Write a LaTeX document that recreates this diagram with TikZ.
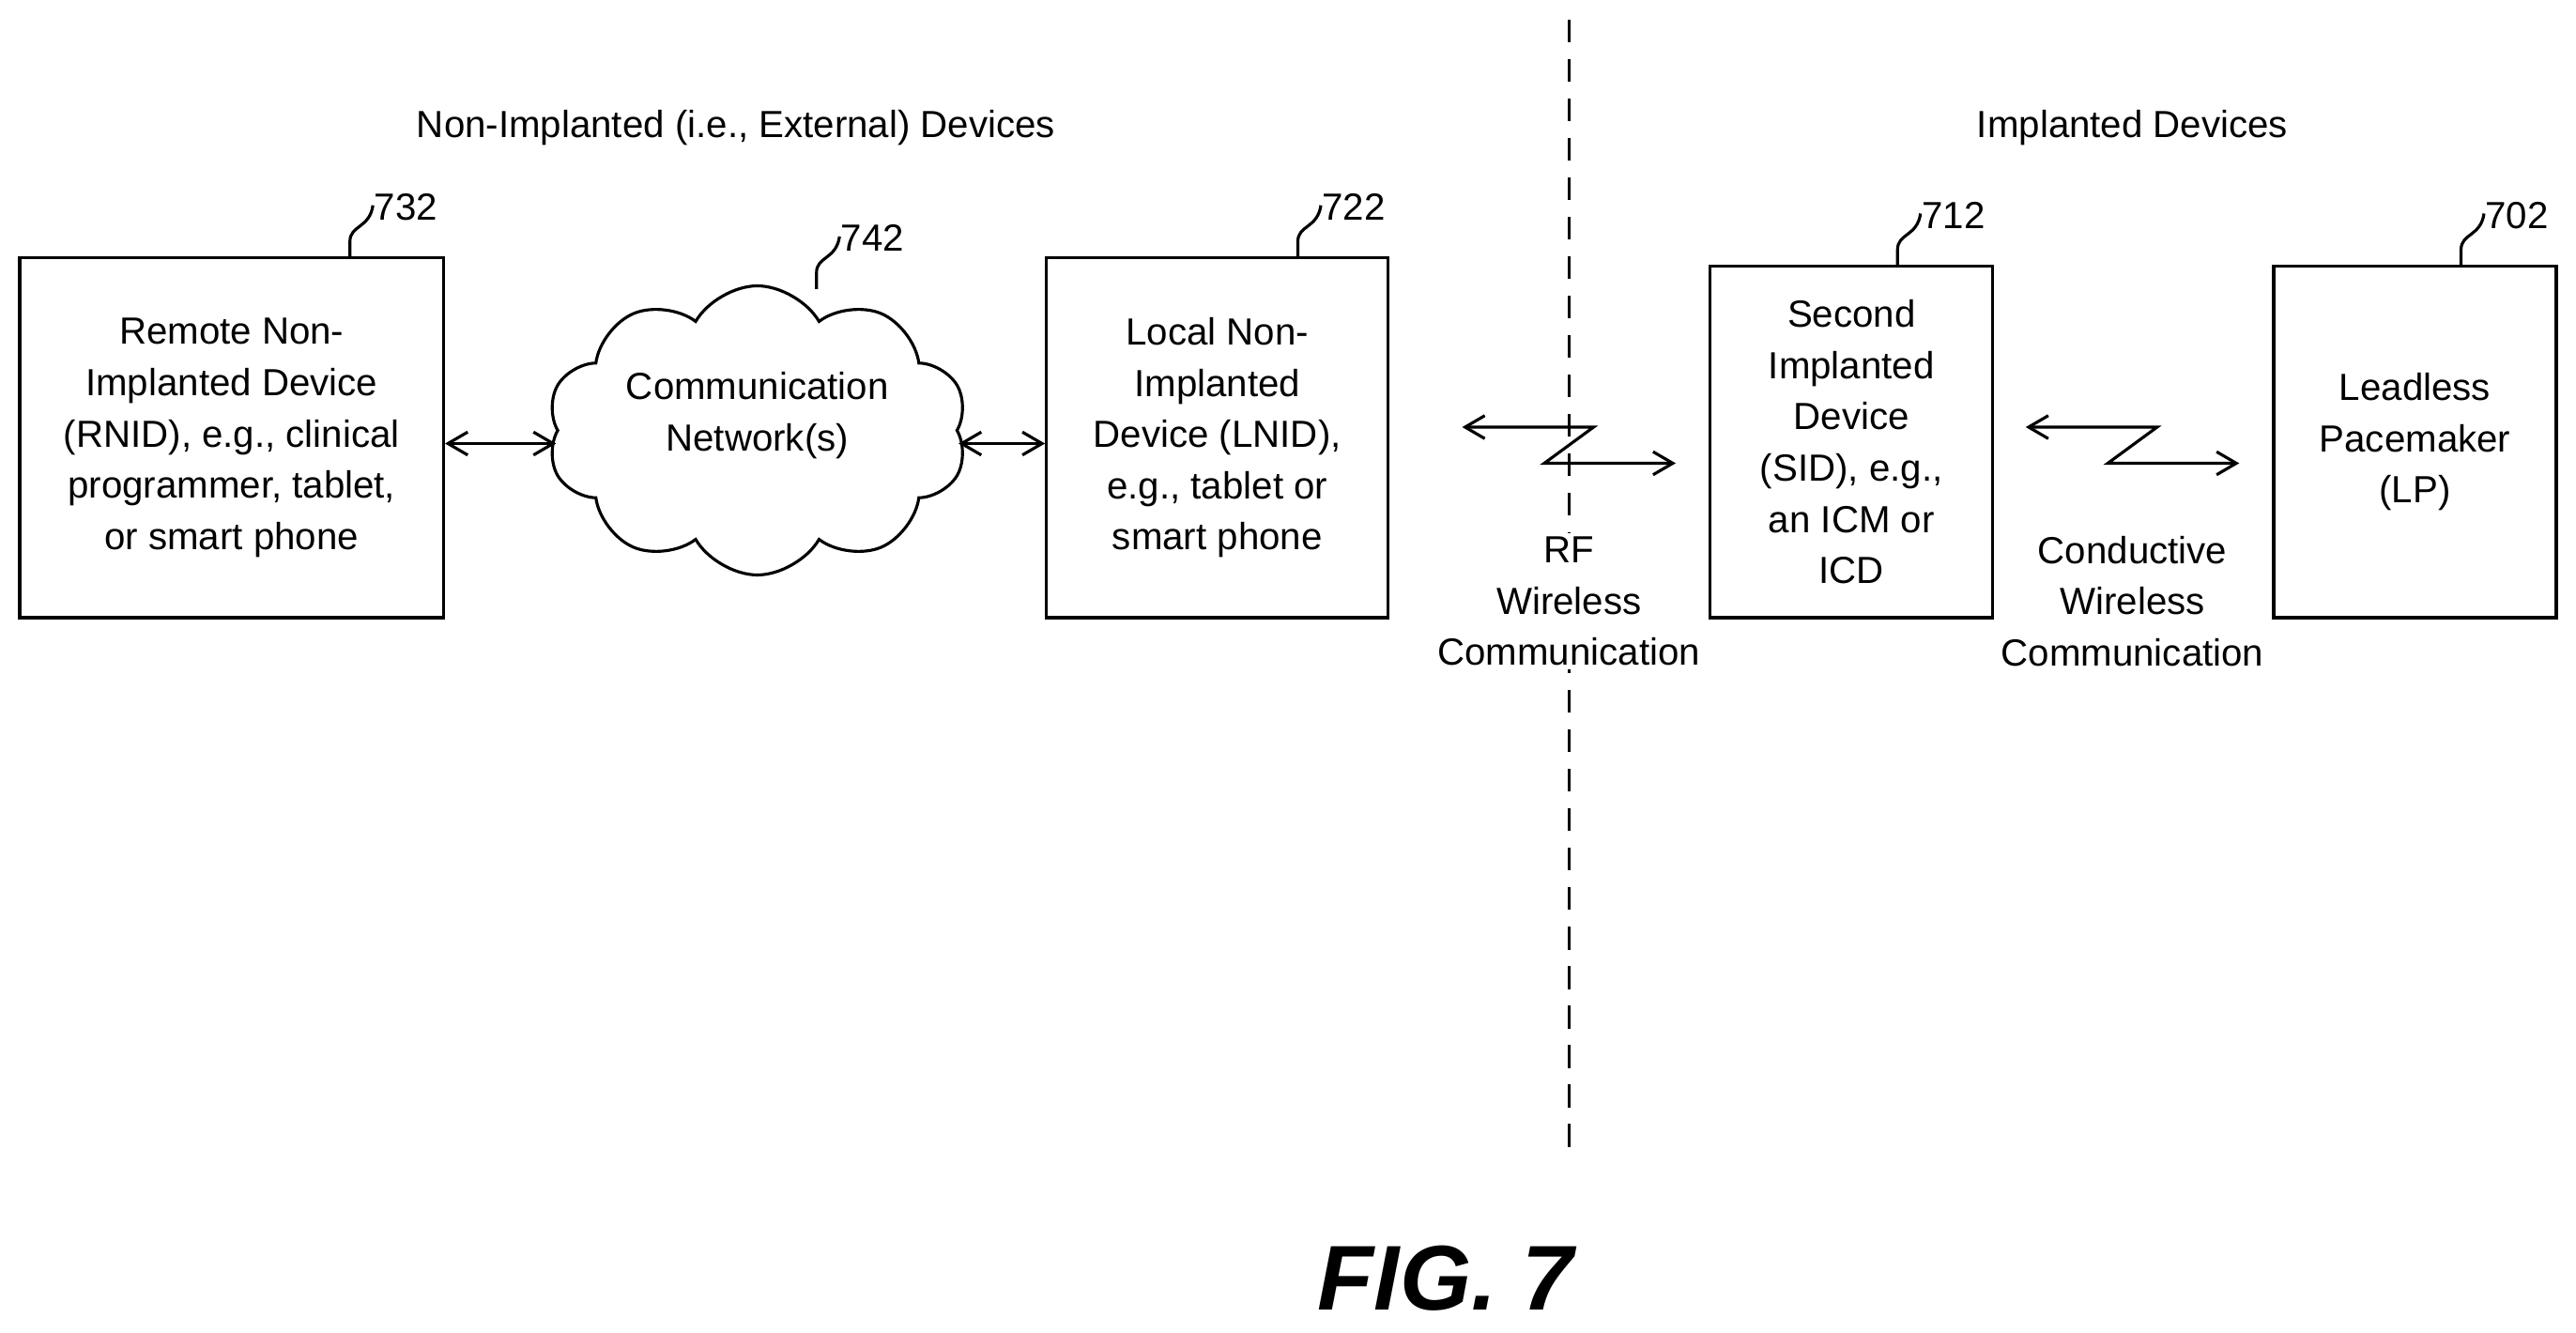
\documentclass[tikz,border=0pt]{standalone}
\usepackage{fontspec}
\setmainfont{Liberation Sans}
\usetikzlibrary{arrows.meta,shapes.symbols}
\begin{document}
\begin{tikzpicture}[x=0.5pt,y=-0.5pt,line width=0.9pt,
  txt/.style={align=center,font=\fontsize{11.5}{15.6}\selectfont},
  box/.style={draw,txt,inner sep=0pt},
  lbl/.style={font=\fontsize{11.5}{14}\selectfont,anchor=west,inner sep=1pt},
  dbl/.style={{Straight Barb[length=6pt,width=7pt]}-{Straight Barb[length=6pt,width=7pt]}}]
\useasboundingbox (0,0) rectangle (1568,811.4);
\draw[dashed,dash pattern=on 7pt off 5pt] (955,12) coordinate (dt) -- (955,700) coordinate (db);
\node[txt] (h1) at (448,78) {Non-Implanted (i.e., External) Devices};
\node[txt] (h2) at (1298,78) {Implanted Devices};
\node[box,minimum width=129pt,minimum height=109.5pt] (rnid) at (141,266.5) {Remote Non-\\Implanted Device\\(RNID), e.g., clinical\\programmer, tablet,\\or smart phone};
\node[draw,cloud,cloud puffs=10,cloud puff arc=120,aspect=1.5,minimum width=128pt,minimum height=88pt,txt,inner sep=0pt] (net) at (461,262) {};
\node[txt] (nett) at (461,253) {Communication\\Network(s)};
\node[box,minimum width=104pt,minimum height=109.5pt] (lnid) at (741,266.5) {Local Non-\\Implanted\\Device (LNID),\\e.g., tablet or\\smart phone};
\node[box,minimum width=86pt,minimum height=107pt] (sid) at (1127,269) {Second\\Implanted\\Device\\(SID), e.g.,\\an ICM or\\ICD};
\node[box,minimum width=86pt,minimum height=107pt] (lp) at (1470,269) {Leadless\\Pacemaker\\(LP)};
\draw[dbl] (rnid.east|-0,270) -- (net.west|-0,270);
\draw[dbl] (net.east|-0,270) -- (lnid.west|-0,270);
% labels
\foreach \n/\x/\t/\y in {rnid/213/732/157, net/497/742/176, lnid/790/722/157, sid/1155/712/162, lp/1498/702/162}{
  \draw (\x,\y) -- (\x,\y-10) .. controls (\x,\y-20) and (\x+12,\y-18) .. (\x+14,\y-32) coordinate (c\t);
  \node[lbl] (l\t) at (\x+12,\y-31) {\t};
}
% zigzags
\coordinate (r1) at (890,260); \coordinate (r2) at (970,260); \coordinate (r3) at (940,282); \coordinate (r4) at (1020,282);
\draw[dbl] (r1) -- (r2) -- (r3) -- (r4);
\coordinate (c1) at (1233,260); \coordinate (c2) at (1313,260); \coordinate (c3) at (1283,282); \coordinate (c4) at (1363,282);
\draw[dbl] (c1) -- (c2) -- (c3) -- (c4);
\node[txt,fill=white,inner sep=1pt] (rf) at (955,366) {RF\\Wireless\\Communication};
\node[txt] (cw) at (1298,366) {Conductive\\Wireless\\Communication};
\node[font=\fontsize{28}{30}\selectfont\bfseries\itshape] (fig) at (880,778) {FIG. 7};
\end{tikzpicture}
\end{document}
